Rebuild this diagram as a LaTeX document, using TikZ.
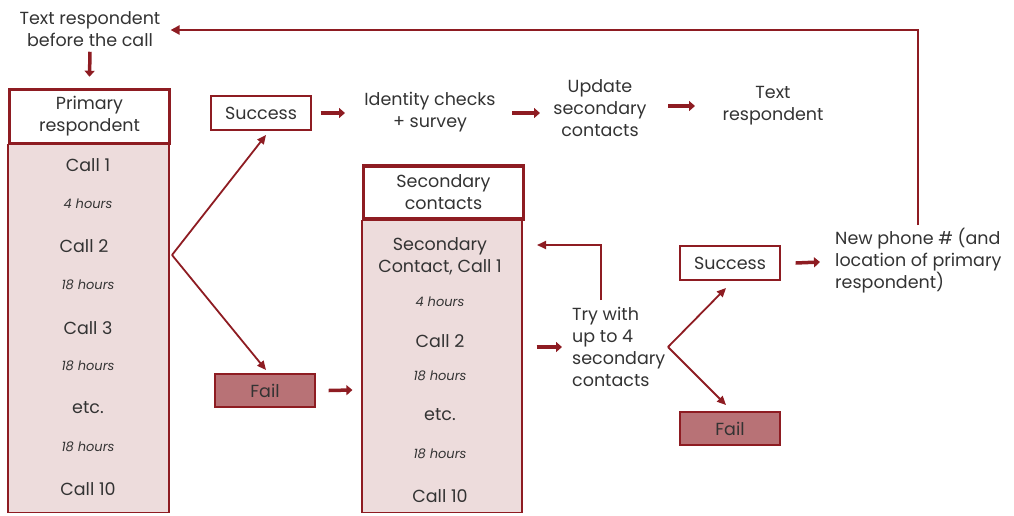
\documentclass[tikz,border=0pt]{standalone}
\usepackage{fontspec}
\setmainfont{Poppins}
\usetikzlibrary{arrows.meta}
\definecolor{dred}{HTML}{8E1C22}
\definecolor{pinkfill}{HTML}{EDDCDC}
\definecolor{failfill}{HTML}{B87276}
\definecolor{txt}{HTML}{333333}
\tikzset{
  lbl/.style={text=txt, font=\fontsize{17.5}{22}\selectfont, align=center, inner sep=0pt},
  hrs/.style={text=txt, font=\fontsize{13}{15}\selectfont\itshape, inner sep=0pt},
  hdr/.style={draw=dred, line width=3.5pt, fill=white, text=txt, font=\fontsize{17.5}{22}\selectfont, align=center},
  colbox/.style={draw=dred, line width=1.2pt, fill=pinkfill},
  okbox/.style={draw=dred, line width=1.2pt, fill=white, text=txt, font=\fontsize{17.5}{22}\selectfont, minimum width=100pt, minimum height=34pt},
  failbox/.style={draw=dred, line width=1.2pt, fill=failfill, text=txt, font=\fontsize{17.5}{22}\selectfont, minimum width=100pt, minimum height=33pt},
  fat/.style={draw=dred, line width=3.5pt, -{Triangle[length=6pt,width=10pt]}},
  slim/.style={draw=dred, line width=1.8pt, -{Triangle[length=9pt,width=8pt]}},
  loop/.style={draw=dred, line width=2.6pt, -{Triangle[length=9pt,width=9pt]}},
}
\begin{document}
\begin{tikzpicture}[x=1pt,y=-1pt]
\useasboundingbox (0,0) rectangle (1014,515);
% Primary column
\node[colbox, minimum width=161pt, minimum height=368pt, anchor=north, inner sep=0pt] (pcol) at (88.5,144) {};
\node[hdr, minimum width=160pt, minimum height=54pt, inner sep=0pt] (prim) at (89.5,116.5) {Primary\\respondent};
\node[lbl] (p1) at (88,165) {Call 1};
\node[hrs] (ph1) at (88,204) {4 hours};
\node[lbl] (p2) at (84,246) {Call 2};
\node[hrs] (ph2) at (88,285) {18 hours};
\node[lbl] (p3) at (88,328) {Call 3};
\node[hrs] (ph3) at (88,366) {18 hours};
\node[lbl] (p4) at (88,408) {etc.};
\node[hrs] (ph4) at (88,447) {18 hours};
\node[lbl] (p5) at (88,489) {Call 10};
% top text
\node[lbl] (textbefore) at (90,29) {Text respondent\\before the call};
\draw[fat] ([yshift=-5pt]textbefore.south) -- ([yshift=11pt]prim.north);
% Success / fail (first)
\node[okbox] (succ1) at (261,113) {Success};
\node[failbox] (fail1) at (265,390.5) {Fail};
\coordinate (pb) at (172,255);
\draw[slim] (pb) -- (266,135) coordinate (s1tip);
\draw[slim] (pb) -- (266,370) coordinate (f1tip);
% top chain
\node[lbl] (idc) at (430,112) {Identity checks\\+ survey};
\node[lbl] (upd) at (600,108) {Update\\secondary\\contacts};
\node[lbl] (txr) at (773,106) {Text\\respondent};
\draw[fat] ([xshift=9pt]succ1.east) -- ([xshift=-85pt,yshift=-1pt]idc.center);
\draw[fat] ([xshift=82pt,yshift=-1pt]idc.center) -- ([xshift=-60pt,yshift=-5pt]upd.center);
\draw[fat] ([xshift=68pt,yshift=2pt]upd.center) -- ([xshift=-78pt]txr.center);
% Secondary column
\node[colbox, minimum width=160pt, minimum height=292pt, anchor=north, inner sep=0pt] (scol) at (442,220) {};
\node[hdr, minimum width=160pt, minimum height=53pt, inner sep=0pt] (sec) at (443.5,192.5) {Secondary\\contacts};
\node[lbl] (s1) at (440,256) {Secondary\\Contact, Call 1};
\node[hrs] (sh1) at (440,302) {4 hours};
\node[lbl] (s2) at (440,341) {Call 2};
\node[hrs] (sh2) at (440,376) {18 hours};
\node[lbl] (s3) at (440,415) {etc.};
\node[hrs] (sh3) at (440,454) {18 hours};
\node[lbl] (s4) at (440,496) {Call 10};
\draw[fat] ([xshift=13pt]fail1.east) -- ([xshift=-9pt]scol.west |- 0,390);
% try with
\node[lbl, align=left, anchor=west] (try) at (572,347) {Try with\\up to 4\\secondary\\contacts};
\draw[fat] ([xshift=14pt]scol.east |- 0,347) -- ([xshift=-10pt]try.west);
\coordinate (tl) at (601,300);
\draw[slim] (tl) |- (537,245) coordinate (tl2);
\node[okbox] (succ2) at (730,263) {Success};
\node[failbox] (fail2) at (730,428.5) {Fail};
\coordinate (tb) at (668,347);
\draw[slim] (tb) -- (726,288);
\draw[slim] (tb) -- (726,405);
\node[lbl, align=left, anchor=west] (newph) at (835,261) {New phone \# (and\\location of primary\\respondent)};
\draw[fat] ([xshift=15pt]succ2.east) -- ([xshift=-15pt]newph.west |- 0,262);
\draw[loop] (918,225) coordinate (nl) |- ([xshift=10pt]textbefore.east |- 0,30);
\end{tikzpicture}
\end{document}
